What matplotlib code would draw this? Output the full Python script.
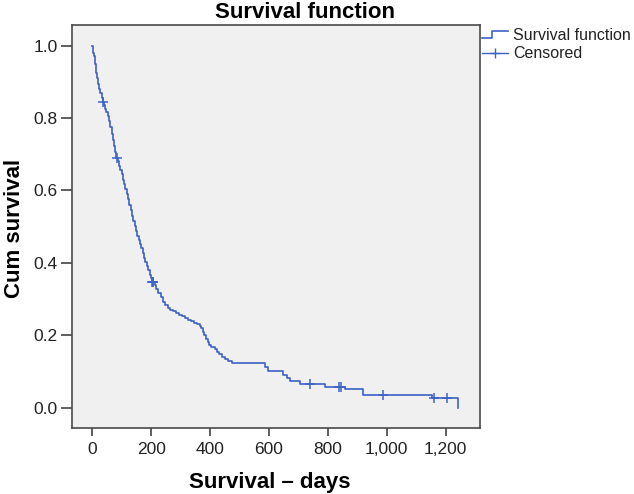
import numpy as np
import matplotlib
matplotlib.use("Agg")
import matplotlib.pyplot as plt
from matplotlib.lines import Line2D
from matplotlib.legend_handler import HandlerBase

plt.rcParams['font.family'] = ['Liberation Sans', 'DejaVu Sans']

# Kaplan-Meier step data (day of event, survival after event)
event_days = [0, 2, 4, 6, 8, 10, 12, 14, 17, 20, 24, 28, 32, 36, 40, 44, 48, 53, 58, 62,
              66, 70, 74, 78, 82, 86, 90, 95, 100, 104, 108, 112, 117, 121, 126, 131, 136,
              140, 144, 149, 153, 158, 162, 166, 171, 175, 180, 185, 190, 195, 200, 204,
              212, 218, 224, 232, 240, 247, 256, 264, 275, 285, 296, 306, 316, 326, 336,
              346, 356, 366, 370, 375, 380, 386, 392, 398, 405, 417, 425, 432, 440, 450,
              462, 474, 588, 598, 649, 660, 671, 706, 790, 858, 921, 1153, 1241]
surv_values = [1.0, 0.99, 0.98, 0.97, 0.96, 0.95, 0.94, 0.925, 0.91, 0.895, 0.88, 0.868,
               0.856, 0.845, 0.835, 0.826, 0.817, 0.806, 0.792, 0.775, 0.757, 0.740, 0.722,
               0.705, 0.690, 0.680, 0.668, 0.656, 0.645, 0.630, 0.617, 0.604, 0.590, 0.577,
               0.561, 0.546, 0.530, 0.516, 0.503, 0.488, 0.475, 0.463, 0.452, 0.440, 0.427,
               0.414, 0.403, 0.391, 0.379, 0.367, 0.357, 0.348, 0.338, 0.328, 0.318, 0.305,
               0.293, 0.283, 0.276, 0.270, 0.266, 0.261, 0.256, 0.252, 0.247, 0.243, 0.239,
               0.235, 0.231, 0.226, 0.219, 0.210, 0.200, 0.190, 0.181, 0.174, 0.168, 0.161,
               0.153, 0.147, 0.141, 0.135, 0.130, 0.124, 0.113, 0.102, 0.090, 0.081, 0.074,
               0.0646, 0.058, 0.051, 0.036, 0.028, 0.0]
censor_days = [36, 84, 204, 205, 207, 739, 839, 845, 986, 1159, 1204]

x_ticks = [0, 200, 400, 600, 800, 1000, 1200]
x_ticklabels = ['0', '200', '400', '600', '800', '1,000', '1,200']
y_ticks = [0.0, 0.2, 0.4, 0.6, 0.8, 1.0]
y_ticklabels = ['0.0', '0.2', '0.4', '0.6', '0.8', '1.0']

LINE_C = '#3d62c6'
FRAME_C = '#4a4a4a'

fig = plt.figure(figsize=(6.34, 4.94), dpi=100)
ax = fig.add_axes([72/634, 1-428/494, (480-72)/634, (428-25)/494])
ax.set_facecolor('#f0f0f0')

ax.step(event_days, surv_values, where='post', color=LINE_C, lw=1.2)

ed = np.array(event_days)
sv = np.array(surv_values)
idx = np.searchsorted(ed, censor_days, side='right') - 1
ax.plot(censor_days, sv[idx], linestyle='none', marker='+', markersize=6.5,
        markeredgewidth=1.1, color=LINE_C)

ax.set_xlim(-68.6, 1316.8)
ax.set_ylim(-0.056, 1.0566)
ax.set_xticks(x_ticks)
ax.set_xticklabels(x_ticklabels)
ax.set_yticks(y_ticks)
ax.set_yticklabels(y_ticklabels)
ax.tick_params(axis='x', length=6, width=1.1, color='#333333', pad=4,
               labelsize=12.5, labelcolor='#222222')
ax.tick_params(axis='y', length=8, width=1.1, color='#333333', pad=2.5,
               labelsize=12.5, labelcolor='#222222')
for s in ax.spines.values():
    s.set_color(FRAME_C)
    s.set_linewidth(1.2)

fig.text(305/634, 1-12/494, 'Survival function', ha='center', va='center',
         fontsize=16, fontweight='bold')
fig.text(270/634, 1-482/494, 'Survival \u2013 days', ha='center', va='center',
         fontsize=16, fontweight='bold')
fig.text(15/634, 1-228/494, 'Cum survival', ha='center', va='center',
         rotation=90, fontsize=16, fontweight='bold')


class StepHandler(HandlerBase):
    def create_artists(self, legend, orig_handle, xdescent, ydescent, width,
                       height, fontsize, trans):
        x0 = -xdescent
        y0 = -ydescent
        xs = [x0, x0 + 0.4 * width, x0 + 0.4 * width, x0 + width]
        ys = [y0 + 0.2 * height, y0 + 0.2 * height, y0 + 0.8 * height, y0 + 0.8 * height]
        ln = Line2D(xs, ys, color=orig_handle.get_color(),
                    lw=orig_handle.get_linewidth())
        ln.set_transform(trans)
        return [ln]


h_surv = Line2D([], [], color=LINE_C, lw=1.2)
h_cens = Line2D([], [], color=LINE_C, lw=1.0, marker='+', markersize=7,
                markeredgewidth=1.0)
leg = fig.legend([h_surv, h_cens], ['Survival function', 'Censored'],
                 loc='upper left', bbox_to_anchor=(482/634, 1-28/494),
                 frameon=False, fontsize=11.5, borderpad=0, borderaxespad=0,
                 handlelength=1.63, handletextpad=0.31, labelspacing=0.2,
                 handler_map={h_surv: StepHandler()})
for t in leg.get_texts():
    t.set_color('#222222')

fig.savefig('out.png', dpi=100)
